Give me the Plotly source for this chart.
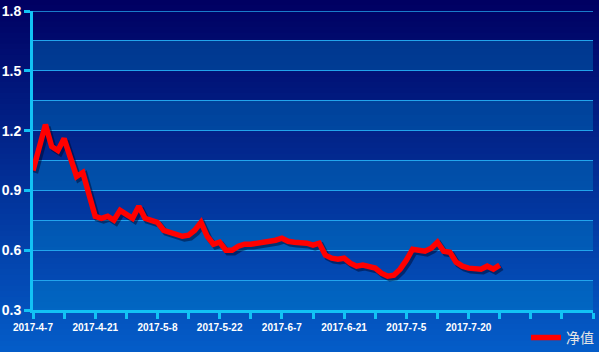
import plotly.graph_objects as go

# ---------------- data ----------------
dates = [
    "2017-4-7", "2017-4-10", "2017-4-11", "2017-4-12", "2017-4-13", "2017-4-14",
    "2017-4-17", "2017-4-18", "2017-4-19", "2017-4-20", "2017-4-21", "2017-4-24",
    "2017-4-25", "2017-4-26", "2017-4-27", "2017-4-28", "2017-5-2", "2017-5-3",
    "2017-5-4", "2017-5-5", "2017-5-8", "2017-5-9", "2017-5-10", "2017-5-11",
    "2017-5-12", "2017-5-15", "2017-5-16", "2017-5-17", "2017-5-18", "2017-5-19",
    "2017-5-22", "2017-5-23", "2017-5-24", "2017-5-25", "2017-5-26", "2017-5-31",
    "2017-6-1", "2017-6-2", "2017-6-5", "2017-6-6", "2017-6-7", "2017-6-8",
    "2017-6-9", "2017-6-12", "2017-6-13", "2017-6-14", "2017-6-15", "2017-6-16",
    "2017-6-19", "2017-6-20", "2017-6-21", "2017-6-22", "2017-6-23", "2017-6-26",
    "2017-6-27", "2017-6-28", "2017-6-29", "2017-6-30", "2017-7-3", "2017-7-4",
    "2017-7-5", "2017-7-6", "2017-7-7", "2017-7-10", "2017-7-11", "2017-7-12",
    "2017-7-13", "2017-7-14", "2017-7-17", "2017-7-18", "2017-7-20", "2017-7-21",
    "2017-7-24", "2017-7-25", "2017-7-26", "2017-7-27",
]
nav = [
    1.00, 1.11, 1.23, 1.12, 1.10, 1.16, 1.06, 0.97, 0.99, 0.89,
    0.77, 0.76, 0.77, 0.75, 0.80, 0.78, 0.76, 0.82, 0.76, 0.75,
    0.74, 0.70, 0.69, 0.675, 0.67, 0.675, 0.70, 0.74, 0.67, 0.63,
    0.64, 0.60, 0.60, 0.62, 0.63, 0.63, 0.635, 0.64, 0.64, 0.65,
    0.66, 0.645, 0.64, 0.64, 0.635, 0.625, 0.635, 0.575, 0.56, 0.555,
    0.56, 0.535, 0.52, 0.525, 0.52, 0.51, 0.485, 0.47, 0.475, 0.505,
    0.55, 0.605, 0.60, 0.595, 0.61, 0.64, 0.595, 0.59, 0.54, 0.52,
    0.51, 0.505, 0.505, 0.52, 0.505, 0.525,
]
series_name = "净值"
y_ticks = [0.3, 0.6, 0.9, 1.2, 1.5, 1.8]
empty_slots = 15          # unlabeled categories after the last date

# ---------------- layout geometry / style ----------------
W, H = 599, 352
ML, MR, MT, MB = 33, 6, 11, 42
CYAN = "#12c3f5"
GRID = "#22a4ec"

axis_labels = dates + [""] * empty_slots
x_idx = list(range(len(nav)))
tick_pos = list(range(0, len(axis_labels), 5))
tick_txt = [axis_labels[i] if i % 10 == 0 else "" for i in tick_pos]

fig = go.Figure()

# soft shadow under the line
fig.add_trace(go.Scatter(
    x=[v + 0.35 for v in x_idx], y=[v - 0.012 for v in nav],
    mode="lines", line=dict(color="rgba(0,0,30,0.45)", width=6),
    hoverinfo="skip", showlegend=False))
fig.add_trace(go.Scatter(
    x=x_idx, y=nav, name=series_name, mode="lines",
    line=dict(color="#ff0000", width=5.5)))

# background vertical gradient (whole figure)
shapes = []
pw, ph = W - ML - MR, H - MT - MB
top_c, bot_c = (0, 0, 98), (4, 92, 200)
N = 64
for k in range(N):
    t = k / (N - 1)
    c = tuple(round(a + (b - a) * t) for a, b in zip(top_c, bot_c))
    p0 = H * k / N - 0.5
    p1 = H * (k + 1) / N + 0.5
    shapes.append(dict(
        type="rect", xref="paper", yref="paper", layer="below",
        x0=-ML / pw - 0.01, x1=(W - ML) / pw + 0.01,
        y0=(H - MB - p1) / ph, y1=(H - MB - p0) / ph,
        fillcolor="rgb(%d,%d,%d)" % c, line=dict(width=0)))
# alternating lighter bands
for lo in y_ticks[:-1]:
    shapes.append(dict(
        type="rect", xref="paper", yref="y", layer="below",
        x0=0, x1=1, y0=lo, y1=lo + 0.15,
        fillcolor="rgba(0,140,205,0.35)", line=dict(width=0)))
# top gridline (at the axis maximum)
shapes.append(dict(type="line", xref="paper", yref="y", layer="below",
                   x0=0, x1=1, y0=y_ticks[-1], y1=y_ticks[-1],
                   line=dict(color=GRID, width=1.5)))

tick_font = dict(family="Liberation Sans, Arial, sans-serif", color="white", weight="bold")

fig.update_layout(
    width=W, height=H,
    margin=dict(l=ML, r=MR, t=MT, b=MB, autoexpand=False),
    paper_bgcolor="#00247a", plot_bgcolor="rgba(0,0,0,0)",
    shapes=shapes,
    showlegend=True,
    legend=dict(orientation="h", xref="container", yref="container",
                x=1.0, xanchor="right", y=0.04, yanchor="middle",
                bgcolor="rgba(0,0,0,0)", itemwidth=30,
                font=dict(family="Noto Sans CJK SC, sans-serif", size=14, color="#e6e6e6")),
    xaxis=dict(
        range=[0, len(axis_labels) - 1], tickmode="array",
        tickvals=tick_pos, ticktext=tick_txt, automargin=False,
        showgrid=False, zeroline=False,
        showline=True, linecolor=CYAN, linewidth=3,
        ticks="outside", ticklen=6, tickwidth=3, tickcolor=CYAN,
        tickfont=dict(size=10, **tick_font)),
    yaxis=dict(
        range=[0.3, 1.8], tickmode="array", tickvals=y_ticks,
        ticktext=["%.1f" % v for v in y_ticks], automargin=False,
        showgrid=True, gridcolor=GRID, gridwidth=1, zeroline=False,
        minor=dict(tickmode="linear", tick0=0.3, dtick=0.15, showgrid=True,
                   gridcolor=GRID, gridwidth=1, ticks=""),
        showline=True, linecolor=CYAN, linewidth=3,
        ticks="outside", ticklen=6, tickwidth=3, tickcolor=CYAN,
        tickfont=dict(size=14, **tick_font)),
)

fig.write_html("out.html")
